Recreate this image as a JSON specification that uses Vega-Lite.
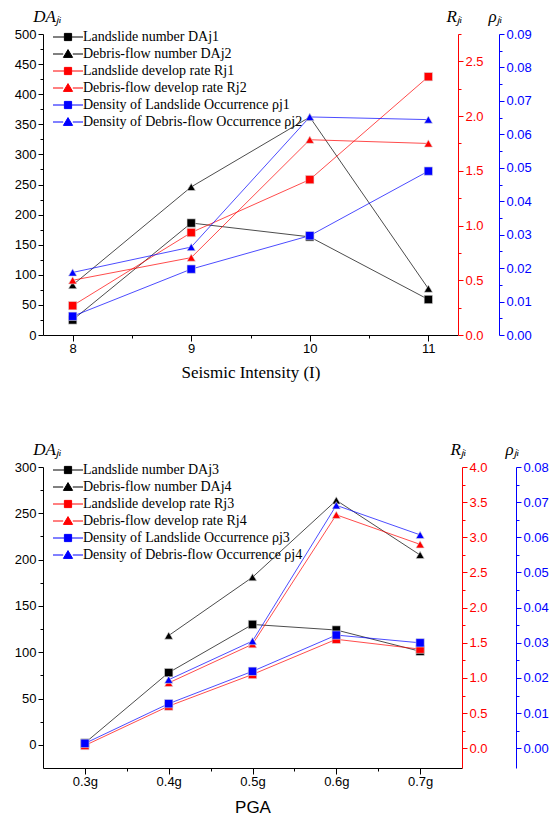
{
"$schema":"https://vega.github.io/schema/vega-lite/v6.json",
"background":"white",
"padding":{"left":14,"top":7,"right":0,"bottom":0},
"config":{"view":{"stroke":null}},
"datasets":{
"top":[
{"x":8,"series":"Landslide number DAj1","axis":"DA","value":25},
{"x":9,"series":"Landslide number DAj1","axis":"DA","value":186},
{"x":10,"series":"Landslide number DAj1","axis":"DA","value":163},
{"x":11,"series":"Landslide number DAj1","axis":"DA","value":59},
{"x":8,"series":"Debris-flow number DAj2","axis":"DA","value":83},
{"x":9,"series":"Debris-flow number DAj2","axis":"DA","value":246},
{"x":10,"series":"Debris-flow number DAj2","axis":"DA","value":362},
{"x":11,"series":"Debris-flow number DAj2","axis":"DA","value":77},
{"x":8,"series":"Landslide develop rate Rj1","axis":"R","value":0.268},
{"x":9,"series":"Landslide develop rate Rj1","axis":"R","value":0.936},
{"x":10,"series":"Landslide develop rate Rj1","axis":"R","value":1.42},
{"x":11,"series":"Landslide develop rate Rj1","axis":"R","value":2.36},
{"x":8,"series":"Debris-flow develop rate Rj2","axis":"R","value":0.5},
{"x":9,"series":"Debris-flow develop rate Rj2","axis":"R","value":0.707},
{"x":10,"series":"Debris-flow develop rate Rj2","axis":"R","value":1.784},
{"x":11,"series":"Debris-flow develop rate Rj2","axis":"R","value":1.75},
{"x":8,"series":"Density of Landslide Occurrence ρj1","axis":"rho","value":0.0056},
{"x":9,"series":"Density of Landslide Occurrence ρj1","axis":"rho","value":0.0197},
{"x":10,"series":"Density of Landslide Occurrence ρj1","axis":"rho","value":0.0297},
{"x":11,"series":"Density of Landslide Occurrence ρj1","axis":"rho","value":0.049},
{"x":8,"series":"Density of Debris-flow Occurrence ρj2","axis":"rho","value":0.0187},
{"x":9,"series":"Density of Debris-flow Occurrence ρj2","axis":"rho","value":0.0263},
{"x":10,"series":"Density of Debris-flow Occurrence ρj2","axis":"rho","value":0.0652},
{"x":11,"series":"Density of Debris-flow Occurrence ρj2","axis":"rho","value":0.0644}
],
"bottom":[
{"x":0.3,"series":"Landslide number DAj3","axis":"DA","value":2},
{"x":0.4,"series":"Landslide number DAj3","axis":"DA","value":78},
{"x":0.5,"series":"Landslide number DAj3","axis":"DA","value":130},
{"x":0.6,"series":"Landslide number DAj3","axis":"DA","value":124},
{"x":0.7,"series":"Landslide number DAj3","axis":"DA","value":101},
{"x":0.4,"series":"Debris-flow number DAj4","axis":"DA","value":118},
{"x":0.5,"series":"Debris-flow number DAj4","axis":"DA","value":181},
{"x":0.6,"series":"Debris-flow number DAj4","axis":"DA","value":264},
{"x":0.7,"series":"Debris-flow number DAj4","axis":"DA","value":205},
{"x":0.3,"series":"Landslide develop rate Rj3","axis":"R","value":0.04},
{"x":0.4,"series":"Landslide develop rate Rj3","axis":"R","value":0.6},
{"x":0.5,"series":"Landslide develop rate Rj3","axis":"R","value":1.05},
{"x":0.6,"series":"Landslide develop rate Rj3","axis":"R","value":1.55},
{"x":0.7,"series":"Landslide develop rate Rj3","axis":"R","value":1.41},
{"x":0.4,"series":"Debris-flow develop rate Rj4","axis":"R","value":0.93},
{"x":0.5,"series":"Debris-flow develop rate Rj4","axis":"R","value":1.48},
{"x":0.6,"series":"Debris-flow develop rate Rj4","axis":"R","value":3.32},
{"x":0.7,"series":"Debris-flow develop rate Rj4","axis":"R","value":2.9},
{"x":0.3,"series":"Density of Landslide Occurrence ρj3","axis":"rho","value":0.0014},
{"x":0.4,"series":"Density of Landslide Occurrence ρj3","axis":"rho","value":0.0127},
{"x":0.5,"series":"Density of Landslide Occurrence ρj3","axis":"rho","value":0.0219},
{"x":0.6,"series":"Density of Landslide Occurrence ρj3","axis":"rho","value":0.0322},
{"x":0.7,"series":"Density of Landslide Occurrence ρj3","axis":"rho","value":0.03},
{"x":0.4,"series":"Density of Debris-flow Occurrence ρj4","axis":"rho","value":0.0195},
{"x":0.5,"series":"Density of Debris-flow Occurrence ρj4","axis":"rho","value":0.0305},
{"x":0.6,"series":"Density of Debris-flow Occurrence ρj4","axis":"rho","value":0.0691},
{"x":0.7,"series":"Density of Debris-flow Occurrence ρj4","axis":"rho","value":0.0607}
]
},
"resolve":{"scale":{"color":"independent","shape":"independent"}},
"spacing":60,
"vconcat":[
{
"width":415,"height":301,
"data":{"name":"top"},
"encoding":{
"x":{"field":"x","type":"quantitative","scale":{"domain":[7.75,11.25],"nice":false,"zero":false},
"axis":{"values":[8,8.5,9,9.5,10,10.5,11],"labelExpr":"datum.value % 1 === 0 ? format(datum.value,'d') : ''","tickSize":{"condition":{"test":"datum.value % 1 === 0","value":6},"value":3},"title":"Seismic Intensity (I)","titleFont":"Liberation Serif","titleFontSize":17,"titleFontWeight":"normal","titleColor":"black","titlePadding":9,"labelFont":"Liberation Sans","labelFontSize":13,"labelColor":"black","domainColor":"black","tickColor":"black","grid":false,"labelPadding":1}},
"color":{"field":"series","type":"nominal",
"scale":{"domain":["Landslide number DAj1","Debris-flow number DAj2","Landslide develop rate Rj1","Debris-flow develop rate Rj2","Density of Landslide Occurrence ρj1","Density of Debris-flow Occurrence ρj2"],"range":["#000000","#000000","#ff0000","#ff0000","#0000ff","#0000ff"]},
"legend":{"title":null,"orient":"none","legendX":0,"legendY":-4,"padding":0,"labelFont":"Liberation Serif","labelFontSize":14,"labelColor":"black","labelLimit":500,"symbolSize":64,"symbolOffset":18,"labelOffset":8,"rowPadding":3,"symbolStrokeWidth":1,"symbolOpacity":1}}
},
"layer":[
{"transform":[{"filter":"datum.axis === 'DA'"}],
"encoding":{"y":{"field":"value","type":"quantitative","scale":{"domain":[0,500],"nice":false,"zero":false},
"axis":{"orient":"left","values":[0,25,50,75,100,125,150,175,200,225,250,275,300,325,350,375,400,425,450,475,500],"labelExpr":"datum.value % 50 === 0 ? datum.label : ''","tickSize":{"condition":{"test":"datum.value % 50 === 0","value":5},"value":3},"grid":false,"domainColor":"black","tickColor":"black","labelColor":"black","labelFont":"Liberation Sans","labelFontSize":13,"labelPadding":2,"title":"DAⱼᵢ","titleAngle":0,"titleFont":"Liberation Serif","titleFontStyle":"italic","titleFontSize":17,"titleFontWeight":"normal","titleColor":"black","titleAlign":"center","titleX":4,"titleY":-9}}},
"layer":[
{"mark":{"type":"line","strokeWidth":1,"opacity":0.7}},
{"transform":[{"filter":"indexof(datum.series,'Debris') < 0"}],"mark":{"type":"point","shape":"square","filled":true,"size":70,"opacity":1,"stroke":"#dddddd","strokeWidth":0.6}},
{"transform":[{"filter":"indexof(datum.series,'Debris') >= 0"}],"mark":{"type":"point","shape":"triangle-up","filled":true,"size":70,"opacity":1,"stroke":"#dddddd","strokeWidth":0.6}},
{"mark":{"type":"point","filled":true,"size":0},
"encoding":{"shape":{"field":"series","type":"nominal","scale":{"domain":["Landslide number DAj1","Debris-flow number DAj2","Landslide develop rate Rj1","Debris-flow develop rate Rj2","Density of Landslide Occurrence ρj1","Density of Debris-flow Occurrence ρj2"],"range":["M-3.75,0H-1M1,0H3.75M-0.9,-0.9H0.9V0.9H-0.9Z","M-3.75,0H-1.2M1.2,0H3.75M0,-1.1L1.15,0.85H-1.15Z","M-3.75,0H-1M1,0H3.75M-0.9,-0.9H0.9V0.9H-0.9Z","M-3.75,0H-1.2M1.2,0H3.75M0,-1.1L1.15,0.85H-1.15Z","M-3.75,0H-1M1,0H3.75M-0.9,-0.9H0.9V0.9H-0.9Z","M-3.75,0H-1.2M1.2,0H3.75M0,-1.1L1.15,0.85H-1.15Z"]},
"legend":{"title":null,"orient":"none","legendX":0,"legendY":-4,"padding":0,"labelFont":"Liberation Serif","labelFontSize":14,"labelColor":"black","labelLimit":500,"symbolSize":64,"symbolOffset":18,"labelOffset":8,"rowPadding":3,"symbolStrokeWidth":1,"symbolOpacity":1}}}}
]},
{"transform":[{"filter":"datum.axis === 'R'"}],
"encoding":{"y":{"field":"value","type":"quantitative","scale":{"domain":[0,2.75],"nice":false,"zero":false},
"axis":{"orient":"right","values":[0,0.25,0.5,0.75,1,1.25,1.5,1.75,2,2.25,2.5,2.75],"labelExpr":"abs(datum.value*2-round(datum.value*2))<1e-6 ? format(datum.value,'.1f') : ''","tickSize":{"condition":{"test":"abs(datum.value*2-round(datum.value*2))<1e-6","value":5},"value":3},"grid":false,"domainColor":"#ff0000","tickColor":"#ff0000","labelColor":"#ff0000","labelFont":"Liberation Sans","labelFontSize":13,"labelPadding":2,"title":"Rⱼᵢ","titleAngle":0,"titleFont":"Liberation Serif","titleFontStyle":"italic","titleFontSize":17,"titleFontWeight":"normal","titleColor":"black","titleAlign":"center","titleX":-4,"titleY":-9}}},
"layer":[
{"mark":{"type":"line","strokeWidth":1,"opacity":0.7}},
{"transform":[{"filter":"indexof(datum.series,'Debris') < 0"}],"mark":{"type":"point","shape":"square","filled":true,"size":70,"opacity":1,"stroke":"#dddddd","strokeWidth":0.6}},
{"transform":[{"filter":"indexof(datum.series,'Debris') >= 0"}],"mark":{"type":"point","shape":"triangle-up","filled":true,"size":70,"opacity":1,"stroke":"#dddddd","strokeWidth":0.6}}
]},
{"transform":[{"filter":"datum.axis === 'rho'"}],
"encoding":{"y":{"field":"value","type":"quantitative","scale":{"domain":[0,0.09],"nice":false,"zero":false},
"axis":{"orient":"right","offset":41,"values":[0,0.005,0.01,0.015,0.02,0.025,0.03,0.035,0.04,0.045,0.05,0.055,0.06,0.065,0.07,0.075,0.08,0.085,0.09],"labelExpr":"abs(datum.value*100-round(datum.value*100))<1e-6 ? format(datum.value,'.2f') : ''","tickSize":{"condition":{"test":"abs(datum.value*100-round(datum.value*100))<1e-6","value":5},"value":3},"grid":false,"domainColor":"#0000ff","tickColor":"#0000ff","labelColor":"#0000ff","labelFont":"Liberation Sans","labelFontSize":13,"labelPadding":2,"title":"ρⱼᵢ","titleAngle":0,"titleFont":"Liberation Serif","titleFontStyle":"italic","titleFontSize":17,"titleFontWeight":"normal","titleColor":"black","titleAlign":"center","titleX":-4,"titleY":-9}}},
"layer":[
{"mark":{"type":"line","strokeWidth":1,"opacity":0.7}},
{"transform":[{"filter":"indexof(datum.series,'Debris') < 0"}],"mark":{"type":"point","shape":"square","filled":true,"size":70,"opacity":1,"stroke":"#dddddd","strokeWidth":0.6}},
{"transform":[{"filter":"indexof(datum.series,'Debris') >= 0"}],"mark":{"type":"point","shape":"triangle-up","filled":true,"size":70,"opacity":1,"stroke":"#dddddd","strokeWidth":0.6}}
]}
],
"resolve":{"scale":{"y":"independent"}}
},
{
"width":419,"height":301,
"data":{"name":"bottom"},
"encoding":{
"x":{"field":"x","type":"quantitative","scale":{"domain":[0.25,0.75],"nice":false,"zero":false},
"axis":{"values":[0.3,0.35,0.4,0.45,0.5,0.55,0.6,0.65,0.7],"labelExpr":"abs(datum.value*10-round(datum.value*10))<1e-6 ? format(datum.value,'.1f')+'g' : ''","tickSize":{"condition":{"test":"abs(datum.value*10-round(datum.value*10))<1e-6","value":6},"value":3},"title":"PGA","titleFont":"Liberation Sans","titleFontSize":17,"titleFontWeight":"normal","titleColor":"black","titlePadding":11,"labelFont":"Liberation Sans","labelFontSize":13,"labelColor":"black","domainColor":"black","tickColor":"black","grid":false,"labelPadding":1}},
"color":{"field":"series","type":"nominal",
"scale":{"domain":["Landslide number DAj3","Debris-flow number DAj4","Landslide develop rate Rj3","Debris-flow develop rate Rj4","Density of Landslide Occurrence ρj3","Density of Debris-flow Occurrence ρj4"],"range":["#000000","#000000","#ff0000","#ff0000","#0000ff","#0000ff"]},
"legend":{"title":null,"orient":"none","legendX":0,"legendY":-4,"padding":0,"labelFont":"Liberation Serif","labelFontSize":14,"labelColor":"black","labelLimit":500,"symbolSize":64,"symbolOffset":18,"labelOffset":8,"rowPadding":3,"symbolStrokeWidth":1,"symbolOpacity":1}}
},
"layer":[
{"transform":[{"filter":"datum.axis === 'DA'"}],
"encoding":{"y":{"field":"value","type":"quantitative","scale":{"domain":[-25,300],"nice":false,"zero":false},
"axis":{"orient":"left","values":[0,25,50,75,100,125,150,175,200,225,250,275,300],"labelExpr":"datum.value % 50 === 0 ? datum.label : ''","tickSize":{"condition":{"test":"datum.value % 50 === 0","value":5},"value":3},"grid":false,"domainColor":"black","tickColor":"black","labelColor":"black","labelFont":"Liberation Sans","labelFontSize":13,"labelPadding":2,"title":"DAⱼᵢ","titleAngle":0,"titleFont":"Liberation Serif","titleFontStyle":"italic","titleFontSize":17,"titleFontWeight":"normal","titleColor":"black","titleAlign":"center","titleX":4,"titleY":-9}}},
"layer":[
{"mark":{"type":"line","strokeWidth":1,"opacity":0.7}},
{"transform":[{"filter":"indexof(datum.series,'Debris') < 0"}],"mark":{"type":"point","shape":"square","filled":true,"size":70,"opacity":1,"stroke":"#dddddd","strokeWidth":0.6}},
{"transform":[{"filter":"indexof(datum.series,'Debris') >= 0"}],"mark":{"type":"point","shape":"triangle-up","filled":true,"size":70,"opacity":1,"stroke":"#dddddd","strokeWidth":0.6}},
{"mark":{"type":"point","filled":true,"size":0},
"encoding":{"shape":{"field":"series","type":"nominal","scale":{"domain":["Landslide number DAj3","Debris-flow number DAj4","Landslide develop rate Rj3","Debris-flow develop rate Rj4","Density of Landslide Occurrence ρj3","Density of Debris-flow Occurrence ρj4"],"range":["M-3.75,0H-1M1,0H3.75M-0.9,-0.9H0.9V0.9H-0.9Z","M-3.75,0H-1.2M1.2,0H3.75M0,-1.1L1.15,0.85H-1.15Z","M-3.75,0H-1M1,0H3.75M-0.9,-0.9H0.9V0.9H-0.9Z","M-3.75,0H-1.2M1.2,0H3.75M0,-1.1L1.15,0.85H-1.15Z","M-3.75,0H-1M1,0H3.75M-0.9,-0.9H0.9V0.9H-0.9Z","M-3.75,0H-1.2M1.2,0H3.75M0,-1.1L1.15,0.85H-1.15Z"]},
"legend":{"title":null,"orient":"none","legendX":0,"legendY":-4,"padding":0,"labelFont":"Liberation Serif","labelFontSize":14,"labelColor":"black","labelLimit":500,"symbolSize":64,"symbolOffset":18,"labelOffset":8,"rowPadding":3,"symbolStrokeWidth":1,"symbolOpacity":1}}}}
]},
{"transform":[{"filter":"datum.axis === 'R'"}],
"encoding":{"y":{"field":"value","type":"quantitative","scale":{"domain":[-0.28,4],"nice":false,"zero":false},
"axis":{"orient":"right","values":[0,0.25,0.5,0.75,1,1.25,1.5,1.75,2,2.25,2.5,2.75,3,3.25,3.5,3.75,4],"labelExpr":"abs(datum.value*2-round(datum.value*2))<1e-6 ? format(datum.value,'.1f') : ''","tickSize":{"condition":{"test":"abs(datum.value*2-round(datum.value*2))<1e-6","value":5},"value":3},"grid":false,"domainColor":"#ff0000","tickColor":"#ff0000","labelColor":"#ff0000","labelFont":"Liberation Sans","labelFontSize":13,"labelPadding":2,"title":"Rⱼᵢ","titleAngle":0,"titleFont":"Liberation Serif","titleFontStyle":"italic","titleFontSize":17,"titleFontWeight":"normal","titleColor":"black","titleAlign":"center","titleX":-4,"titleY":-9}}},
"layer":[
{"mark":{"type":"line","strokeWidth":1,"opacity":0.7}},
{"transform":[{"filter":"indexof(datum.series,'Debris') < 0"}],"mark":{"type":"point","shape":"square","filled":true,"size":70,"opacity":1,"stroke":"#dddddd","strokeWidth":0.6}},
{"transform":[{"filter":"indexof(datum.series,'Debris') >= 0"}],"mark":{"type":"point","shape":"triangle-up","filled":true,"size":70,"opacity":1,"stroke":"#dddddd","strokeWidth":0.6}}
]},
{"transform":[{"filter":"datum.axis === 'rho'"}],
"encoding":{"y":{"field":"value","type":"quantitative","scale":{"domain":[-0.0056,0.08],"nice":false,"zero":false},
"axis":{"orient":"right","offset":54,"values":[0,0.005,0.01,0.015,0.02,0.025,0.03,0.035,0.04,0.045,0.05,0.055,0.06,0.065,0.07,0.075,0.08],"labelExpr":"abs(datum.value*100-round(datum.value*100))<1e-6 ? format(datum.value,'.2f') : ''","tickSize":{"condition":{"test":"abs(datum.value*100-round(datum.value*100))<1e-6","value":5},"value":3},"grid":false,"domainColor":"#0000ff","tickColor":"#0000ff","labelColor":"#0000ff","labelFont":"Liberation Sans","labelFontSize":13,"labelPadding":2,"title":"ρⱼᵢ","titleAngle":0,"titleFont":"Liberation Serif","titleFontStyle":"italic","titleFontSize":17,"titleFontWeight":"normal","titleColor":"black","titleAlign":"center","titleX":-4,"titleY":-9}}},
"layer":[
{"mark":{"type":"line","strokeWidth":1,"opacity":0.7}},
{"transform":[{"filter":"indexof(datum.series,'Debris') < 0"}],"mark":{"type":"point","shape":"square","filled":true,"size":70,"opacity":1,"stroke":"#dddddd","strokeWidth":0.6}},
{"transform":[{"filter":"indexof(datum.series,'Debris') >= 0"}],"mark":{"type":"point","shape":"triangle-up","filled":true,"size":70,"opacity":1,"stroke":"#dddddd","strokeWidth":0.6}}
]}
],
"resolve":{"scale":{"y":"independent"}}
}
]
}
